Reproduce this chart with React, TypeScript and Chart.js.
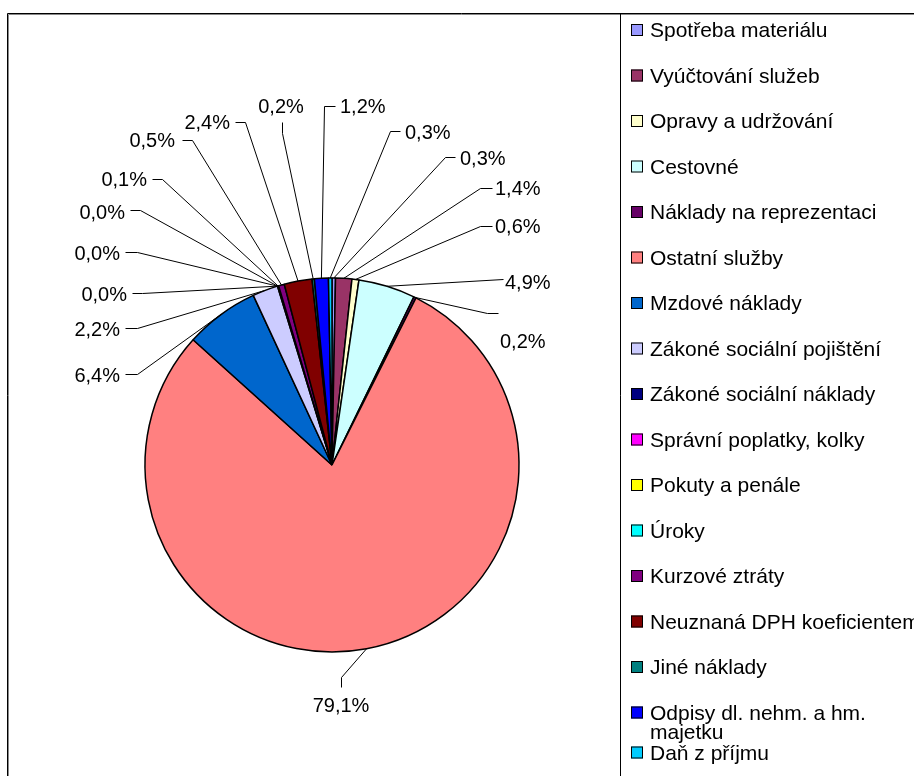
import React, { useEffect, useRef } from 'react';
import { Chart, registerables } from 'chart.js';

Chart.register(...registerables);

const categories = [
  'Spotřeba materiálu',
  'Vyúčtování služeb',
  'Opravy a udržování',
  'Cestovné',
  'Náklady na reprezentaci',
  'Ostatní služby',
  'Mzdové náklady',
  'Zákoné sociální pojištění',
  'Zákoné sociální náklady',
  'Správní poplatky, kolky',
  'Pokuty a penále',
  'Úroky',
  'Kurzové ztráty',
  'Neuznaná DPH koeficientem',
  'Jiné náklady',
  'Odpisy dl. nehm. a hm. majetku',
  'Daň z příjmu',
];

const sharePercent = [0.3, 1.4, 0.6, 4.9, 0.2, 79.1, 6.4, 2.2, 0.0, 0.0, 0.0, 0.1, 0.5, 2.4, 0.2, 1.2, 0.3];

const sliceColors = [
  '#9999FF', '#993366', '#FFFFCC', '#CCFFFF', '#660066', '#FF8080', '#0066CC', '#CCCCFF',
  '#000080', '#FF00FF', '#FFFF00', '#00FFFF', '#800080', '#800000', '#008080', '#0000FF', '#00CCFF',
];

// label placement (text anchor + leader elbow), one per slice
const labelLayout = [
  { tx: 460, ty: 158, align: 'left', ax: 455, ay: 157, bx: 445, by: 157 },
  { tx: 495, ty: 188, align: 'left', ax: 492, ay: 188, bx: 480, by: 188 },
  { tx: 495, ty: 226, align: 'left', ax: 492, ay: 226, bx: 480, by: 226 },
  { tx: 505, ty: 282, align: 'left', ax: 503, ay: 279, bx: 503, by: 279 },
  { tx: 500, ty: 341, align: 'left', ax: 498, ay: 313, bx: 487, by: 313 },
  { tx: 341, ty: 705, align: 'center', ax: 341, ay: 687, bx: 341, by: 677 },
  { tx: 120, ty: 375, align: 'right', ax: 125, ay: 374, bx: 137, by: 374 },
  { tx: 120, ty: 329, align: 'right', ax: 125, ay: 328, bx: 137, by: 328 },
  { tx: 127, ty: 294, align: 'right', ax: 132, ay: 293, bx: 142, by: 293 },
  { tx: 120, ty: 253, align: 'right', ax: 125, ay: 252, bx: 137, by: 252 },
  { tx: 125, ty: 212, align: 'right', ax: 130, ay: 210, bx: 140, by: 210 },
  { tx: 147, ty: 179, align: 'right', ax: 152, ay: 179, bx: 162, by: 179 },
  { tx: 175, ty: 140, align: 'right', ax: 182, ay: 140, bx: 192, by: 140 },
  { tx: 230, ty: 122, align: 'right', ax: 235, ay: 122, bx: 245, by: 122 },
  { tx: 281, ty: 106, align: 'center', ax: 282, ay: 122, bx: 282, by: 133 },
  { tx: 340, ty: 106, align: 'left', ax: 335, ay: 106, bx: 324, by: 106 },
  { tx: 405, ty: 132, align: 'left', ax: 400, ay: 131, bx: 390, by: 131 },
];

const FONT = '20px "Liberation Sans", Arial, sans-serif';
const LEGEND_FONT = '21px "Liberation Sans", Arial, sans-serif';

const fmt = (v: number) => v.toFixed(1).replace('.', ',') + '%';

const leaderPlugin = {
  id: 'leaders',
  afterDatasetsDraw(chart: any) {
    const ctx = chart.ctx;
    const meta = chart.getDatasetMeta(0);
    ctx.save();
    ctx.strokeStyle = '#000';
    ctx.lineWidth = 1;
    ctx.font = FONT;
    ctx.fillStyle = '#000';
    ctx.textBaseline = 'alphabetic';
    meta.data.forEach((arc: any, i: number) => {
      const p = arc.getProps(['x', 'y', 'startAngle', 'endAngle', 'outerRadius'], true);
      const mid = (p.startAngle + p.endAngle) / 2;
      const px = p.x + Math.cos(mid) * p.outerRadius;
      const py = p.y + Math.sin(mid) * p.outerRadius;
      const L = labelLayout[i];
      ctx.beginPath();
      ctx.moveTo(L.ax + 0.5, L.ay + 0.5);
      ctx.lineTo(L.bx + 0.5, L.by + 0.5);
      ctx.lineTo(px, py);
      ctx.stroke();
      ctx.textAlign = L.align;
      ctx.fillText(fmt(sharePercent[i]), L.tx, L.ty + 7);
    });
    ctx.restore();
  },
};

const frameLegendPlugin = {
  id: 'frameLegend',
  afterDraw(chart: any) {
    const ctx = chart.ctx;
    const W = chart.width;
    const H = chart.height;
    ctx.save();
    // outer chart frame
    ctx.lineWidth = 1;
    ctx.strokeStyle = '#888';
    ctx.beginPath();
    ctx.moveTo(8.5, H + 2);
    ctx.lineTo(8.5, 14.5);
    ctx.lineTo(W + 2, 14.5);
    ctx.stroke();
    ctx.strokeStyle = '#000';
    ctx.beginPath();
    ctx.moveTo(7.5, H + 2);
    ctx.lineTo(7.5, 13.5);
    ctx.lineTo(W + 2, 13.5);
    ctx.stroke();
    // legend box
    ctx.beginPath();
    ctx.moveTo(620.5, 13.5);
    ctx.lineTo(620.5, H + 2);
    ctx.stroke();

    ctx.font = LEGEND_FONT;
    ctx.textAlign = 'left';
    ctx.textBaseline = 'alphabetic';
    const maxW = 285;
    let y = 30;
    categories.forEach((name, i) => {
      ctx.fillStyle = sliceColors[i];
      ctx.fillRect(631, y - 6, 12, 12);
      ctx.strokeStyle = '#000';
      ctx.strokeRect(631.5, y - 5.5, 11, 11);
      ctx.fillStyle = '#000';
      const words = name.split(' ');
      const lines: string[] = [];
      let cur = '';
      words.forEach((w) => {
        const t = cur ? cur + ' ' + w : w;
        if (ctx.measureText(t).width > maxW && cur) {
          lines.push(cur);
          cur = w;
        } else cur = t;
      });
      lines.push(cur);
      lines.forEach((ln, k) => ctx.fillText(ln, 650, y + 7 + k * 19));
      y += lines.length > 1 ? 19 * (lines.length - 1) + 21 : 45.5;
    });
    ctx.restore();
  },
};

export default function App() {
  const ref = useRef<HTMLCanvasElement | null>(null);
  useEffect(() => {
    if (!ref.current) return;
    const chart = new Chart(ref.current, {
      type: 'pie',
      data: {
        labels: categories,
        datasets: [
          {
            data: sharePercent,
            backgroundColor: sliceColors,
            borderColor: '#000',
            borderWidth: 1.5,
            radius: 187,
          } as any,
        ],
      },
      options: {
        responsive: false,
        animation: false,
        events: [],
        layout: { padding: { left: 132, right: 382, top: 265, bottom: 111 } },
        plugins: {
          legend: { display: false },
          tooltip: { enabled: false },
          title: { display: false },
        },
      },
      plugins: [leaderPlugin, frameLegendPlugin],
    });
    return () => chart.destroy();
  }, []);
  return (
    <div style={{ position: 'fixed', left: 0, top: 0, width: 914, height: 776, overflow: 'hidden', background: '#fff' }}>
      <canvas ref={ref} width={914} height={776} style={{ display: 'block', width: 914, height: 776 }} />
    </div>
  );
}
